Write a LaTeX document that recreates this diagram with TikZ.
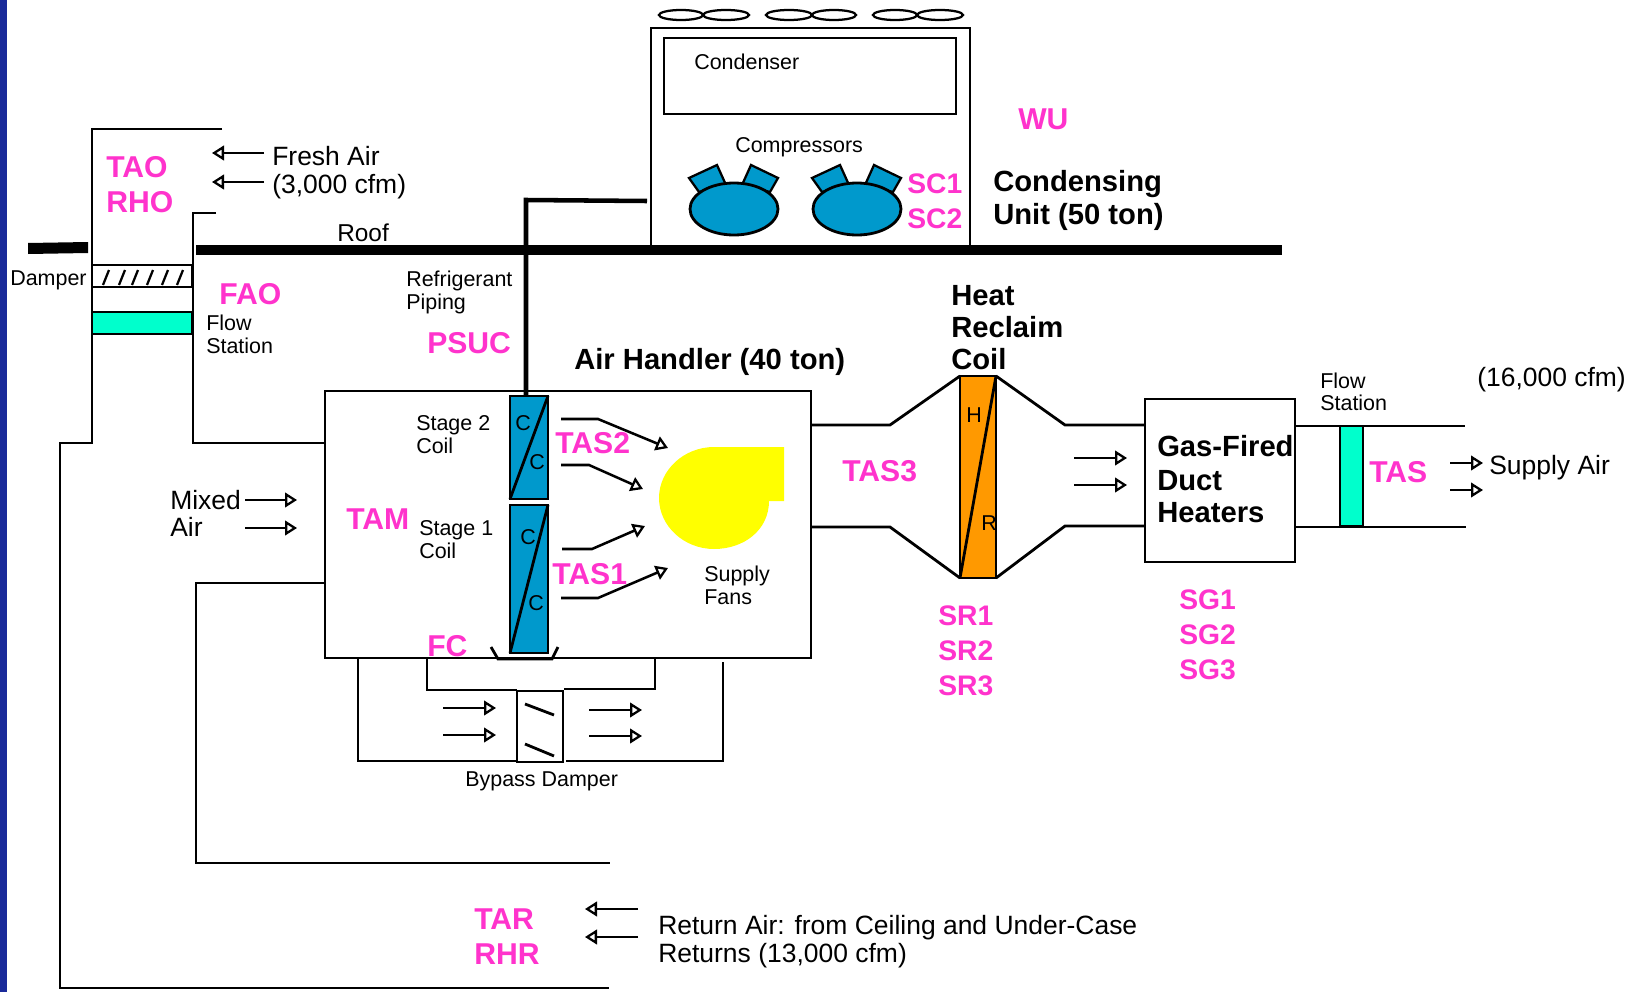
\documentclass[tikz,border=0pt]{standalone}
\usepackage{fontspec}
\setmainfont{Liberation Sans}
\usetikzlibrary{arrows.meta}
\definecolor{bandblue}{HTML}{1A2A9A}
\definecolor{tagpink}{HTML}{FF33CC}
\definecolor{coilblue}{HTML}{0099CC}
\definecolor{teal}{HTML}{00FFCC}
\definecolor{coilorange}{HTML}{FF9900}
\definecolor{fanyellow}{HTML}{FFFF00}
\tikzset{
  x=0.75pt,y=-0.75pt,
  wall/.style={draw=black,line width=2.1pt,line join=miter},
  thin wall/.style={draw=black,line width=1.7pt},
  flow/.style={draw=black,line width=1.9pt,-{Triangle[open,length=9pt,width=11pt,line width=1.7pt]}},
  txt/.style={anchor=base west,inner sep=0pt,text=black},
  big/.style={txt,font=\fontsize{19.85}{24}\selectfont},
  med/.style={txt,font=\fontsize{18.3}{22}\selectfont},
  small/.style={txt,font=\fontsize{16.1}{20}\selectfont},
  head/.style={txt,font=\fontsize{21.9}{26}\bfseries\selectfont},
  tag/.style={txt,text=tagpink,font=\fontsize{22.6}{26}\bfseries\selectfont},
  tag s/.style={txt,text=tagpink,font=\fontsize{21.2}{25}\bfseries\selectfont},
}
\begin{document}
\begin{tikzpicture}
\useasboundingbox (0,0) rectangle (1639,992);
\fill[white] (0,0) rectangle (1639,992);
\fill[bandblue] (0,0) rectangle (7,992);
% roof
\fill[black] (28,243) -- (88,242) -- (88,253) -- (28,254) -- cycle;
\fill[black] (196,245) rectangle (1282,255);
% outdoor air intake
\path[wall] (222,129) -- (92,129) -- (92,443) -- (60,443) -- (60,988) -- (609,988);
\path[wall] (216,213) -- (193,213) -- (193,443) -- (325,443);
\path[wall] (92,265) rectangle (192,287);
\foreach \hx in {103,119,132,147,162,177} \draw[thin wall] (\hx,285) -- ++(6,-15);
\path[wall,fill=teal] (92,312) rectangle (192,334);
% return duct
\path[wall] (325,583) -- (196,583) -- (196,863) -- (610,863);
% condensing unit
\path[wall] (651,245) -- (651,28) -- (970,28) -- (970,245);
\path[wall] (664,38) rectangle (956,114);
\foreach \cx/\rr in {681/22,726/23,789/23,834/22,895/22,940/23}
  \draw[thin wall] (\cx,15) ellipse [x radius=\rr, y radius=5];
% compressors
\foreach \dx in {0,123}{
  \begin{scope}[xshift=\dx*0.75pt]
  \path[thin wall,fill=coilblue] (689,178) -- (717,165) -- (726,185) -- (699,192) -- cycle;
  \path[thin wall,fill=coilblue] (742,185) -- (751,165) -- (778,178) -- (770,192) -- cycle;
  \path[wall,fill=coilblue] (734,209) ellipse [x radius=44, y radius=26];
  \end{scope}}
% refrigerant pipe
\draw[line width=3.4pt] (647,201) -- (526,200) -- (526,397);
% air handler
\path[wall] (325,391) rectangle (811,658);
\path[wall,fill=coilblue] (510,396) rectangle (548,499);
\draw[wall] (510,499) -- (548,396);
\path[wall,fill=coilblue] (510,505) rectangle (548,653);
\draw[wall] (510,653) -- (548,505);
\path[wall] (491,647) -- (498,659) -- (552,659) -- (558,647);
\fill[fanyellow] (784,447) -- (714,447) .. controls (684,447) and (659,470) .. (659,498)
  .. controls (659,526) and (684,549) .. (714,549) .. controls (744,549) and (769,530) .. (769,501)
  -- (784,501) -- cycle;
\draw[flow] (561,419) -- (598,419) -- (668,448);
\draw[flow] (561,465) -- (589,465) -- (643,489);
\draw[flow] (562,549) -- (592,549) -- (645,526);
\draw[flow] (561,598) -- (598,598) -- (668,568);
% bypass
\path[wall] (358,658) -- (358,761) -- (516,761);
\path[wall] (427,658) -- (427,690) -- (517,690);
\path[wall] (517,691) rectangle (563,762);
\path[wall] (564,689) -- (655,689) -- (655,658);
\path[wall] (723,662) -- (723,761) -- (566,761);
\draw[wall] (525,704) -- (554,715);
\draw[wall] (525,744) -- (554,756);
\draw[flow] (443,708) -- (496,708);
\draw[flow] (443,735) -- (496,735);
\draw[flow] (589,710) -- (642,710);
\draw[flow] (589,736) -- (642,736);
% heat reclaim coil
\path[wall] (811,425) -- (890,425) -- (960,376);
\path[wall] (811,527) -- (890,527) -- (960,578);
\path[wall,fill=coilorange] (960,376) rectangle (996,578);
\draw[wall] (960,578) -- (996,376);
\path[wall] (996,376) -- (1065,425) -- (1145,425);
\path[wall] (996,578) -- (1065,526) -- (1145,526);
% heaters
\path[wall] (1145,399) rectangle (1295,562);
\path[wall] (1295,426) -- (1465,426);
\path[wall] (1295,527) -- (1466,527);
\path[wall,fill=teal] (1340,426) rectangle (1363,526);
% air flow arrows
\draw[flow] (264,153) -- (212,153);
\draw[flow] (264,182) -- (212,182);
\draw[flow] (245,500) -- (297,500);
\draw[flow] (245,528) -- (297,528);
\draw[flow] (1074,458) -- (1127,458);
\draw[flow] (1074,485) -- (1127,485);
\draw[flow] (1450,463) -- (1483,463);
\draw[flow] (1450,490) -- (1483,490);
\draw[flow] (638,909) -- (585,909);
\draw[flow] (638,937) -- (585,937);
% labels
\node[big] (fresh1) at (272,165) {Fresh Air};
\node[big] (fresh2) at (272,193) {(3,000 cfm)};
\node[big] (mix1) at (170,509) {Mixed};
\node[big] (mix2) at (170,536) {Air};
\node[big] (sup16) at (1477,386) {(16,000 cfm)};
\node[big] (supair) at (1489,474) {Supply Air};
\node[big] (ret1) at (658,934) {Return Air: from Ceiling and Under-Case};
\node[big] (ret2) at (658,962) {Returns (13,000 cfm)};
\node[med] (roof) at (337,241) {Roof};
\node[small] (cond) at (694,69) {Condenser};
\node[small] (comp) at (735,152) {Compressors};
\node[small] (damp) at (10,285) {Damper};
\node[small] (fs1) at (206,330) {Flow};
\node[small] (fs2) at (206,353) {Station};
\node[small] (ref1) at (406,286) {Refrigerant};
\node[small] (ref2) at (406,309) {Piping};
\node[small] (st2a) at (416,430) {Stage 2};
\node[small] (st2b) at (416,453) {Coil};
\node[small] (st1a) at (419,535) {Stage 1};
\node[small] (st1b) at (419,558) {Coil};
\node[small] (fan1) at (704,581) {Supply};
\node[small] (fan2) at (704,604) {Fans};
\node[small] (byp) at (465,786) {Bypass Damper};
\node[small] (fs3) at (1320,388) {Flow};
\node[small] (fs4) at (1320,410) {Station};
\node[small,anchor=center] (c1) at (523,423) {C};
\node[small,anchor=center] (c2) at (537,462) {C};
\node[small,anchor=center] (c3) at (528,537) {C};
\node[small,anchor=center] (c4) at (536,603) {C};
\node[small,anchor=center] (hh) at (974,415) {H};
\node[small,anchor=center] (rr) at (989,523) {R};
\node[head] (cu1) at (993,191) {Condensing};
\node[head] (cu2) at (993,224) {Unit (50 ton)};
\node[head] (ahu) at (574,369) {Air Handler (40 ton)};
\node[head] (hr1) at (951,305) {Heat};
\node[head] (hr2) at (951,337) {Reclaim};
\node[head] (hr3) at (951,369) {Coil};
\node[head] (gf1) at (1157,456) {Gas-Fired};
\node[head] (gf2) at (1157,490) {Duct};
\node[head] (gf3) at (1157,522) {Heaters};
\node[tag] (tao) at (106,177) {TAO};
\node[tag] (rho) at (106,212) {RHO};
\node[tag] (fao) at (219,304) {FAO};
\node[tag] (psuc) at (427,353) {PSUC};
\node[tag] (wu) at (1018,129) {WU};
\node[tag s] (sc1) at (907,193) {SC1};
\node[tag s] (sc2) at (907,228) {SC2};
\node[tag] (tas2) at (555,453) {TAS2};
\node[tag] (tas1) at (552,584) {TAS1};
\node[tag] (tam) at (346,529) {TAM};
\node[tag] (fc) at (427,656) {FC};
\node[tag] (tas3) at (842,481) {TAS3};
\node[tag] (tas) at (1369,482) {TAS};
\node[tag s] (sr1) at (938,625) {SR1};
\node[tag s] (sr2) at (938,660) {SR2};
\node[tag s] (sr3) at (938,695) {SR3};
\node[tag s] (sg1) at (1179,609) {SG1};
\node[tag s] (sg2) at (1179,644) {SG2};
\node[tag s] (sg3) at (1179,679) {SG3};
\node[tag] (tar) at (474,929) {TAR};
\node[tag] (rhr) at (474,964) {RHR};
\end{tikzpicture}
\end{document}
